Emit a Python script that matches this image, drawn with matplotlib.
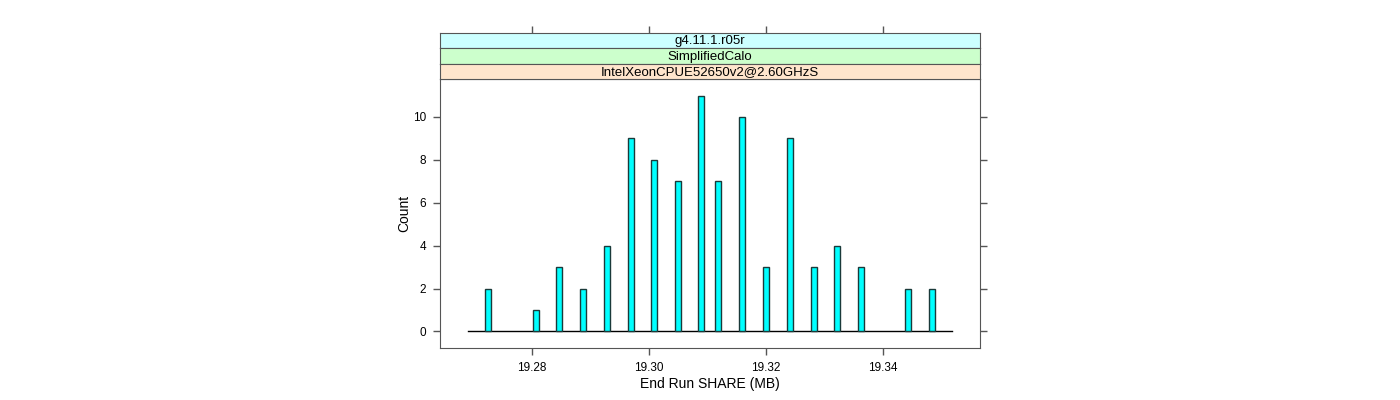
import matplotlib
matplotlib.use("Agg")
import matplotlib.pyplot as plt

# ── data ────────────────────────────────────────────────────────
share_mb = [19.2725, 19.2807, 19.2846, 19.2887, 19.2928, 19.2969, 19.3009,
            19.3050, 19.3089, 19.3118, 19.3159, 19.3200, 19.3241, 19.3282,
            19.3321, 19.3362, 19.3443, 19.3484]
counts = [2, 1, 3, 2, 4, 9, 8, 7, 11, 7, 10, 3, 9, 3, 4, 3, 2, 2]
bins_lo, bins_hi = 19.2691, 19.3518
strip_labels = ["g4.11.1.r05r", "SimplifiedCalo", "IntelXeonCPUE52650v2@2.60GHzS"]
strip_colors = ["#ccffff", "#ccffcc", "#ffe5cc"]
x_ticks = [19.28, 19.30, 19.32, 19.34]
y_ticks = [0, 2, 4, 6, 8, 10]

plt.rcParams.update({
    "font.family": ["Liberation Sans", "DejaVu Sans"],
    "axes.edgecolor": "#555555",
    "xtick.color": "#555555",
    "ytick.color": "#555555",
    "xtick.labelcolor": "black",
    "ytick.labelcolor": "black",
})

W, H = 1400, 400
fig = plt.figure(figsize=(W / 100, H / 100), dpi=100)

left, right = 440 / W, 980 / W
ax = fig.add_axes([left, 1 - 348 / H, right - left, (348 - 79) / H])

ax.bar(share_mb, counts, width=0.00105, color="#00ffff",
       edgecolor="#1a3a3a", linewidth=1.0, zorder=3)
ax.plot([bins_lo, bins_hi], [0, 0], color="black", linewidth=1.0, zorder=2)

xlim = (19.2643, 19.3566)
ax.set_xlim(*xlim)
ax.set_ylim(-0.77, 11.77)
ax.set_xticks(x_ticks)
ax.set_xticklabels([f"{t:.2f}" for t in x_ticks], fontsize=8.5)
ax.set_yticks(y_ticks)
ax.set_yticklabels([str(t) for t in y_ticks], fontsize=8.5)
ax.tick_params(direction="out", length=5, width=1, right=True, top=False,
               labelright=False, pad=5)
ax.set_xlabel("End Run SHARE (MB)", fontsize=10, labelpad=2)
ax.set_ylabel("Count", fontsize=10, labelpad=1)

# strips above the panel (lattice style)
strip_h = 15.33 / H
for i, (lab, col) in enumerate(zip(strip_labels, strip_colors)):
    y0 = 1 - 79 / H + (len(strip_labels) - 1 - i) * strip_h
    sax = fig.add_axes([left, y0, right - left, strip_h])
    sax.set_facecolor(col)
    sax.set_xlim(*xlim)
    sax.set_ylim(0, 1)
    sax.set_yticks([])
    sax.text(0.5, 0.45, lab, transform=sax.transAxes, ha="center",
             va="center", fontsize=9.5)
    if i == 0:
        sax.set_xticks(x_ticks)
        sax.tick_params(axis="x", direction="out", length=5, width=1,
                        top=True, bottom=False, labeltop=False,
                        labelbottom=False)
    else:
        sax.set_xticks([])

fig.savefig("out.png", dpi=100, facecolor="white")
